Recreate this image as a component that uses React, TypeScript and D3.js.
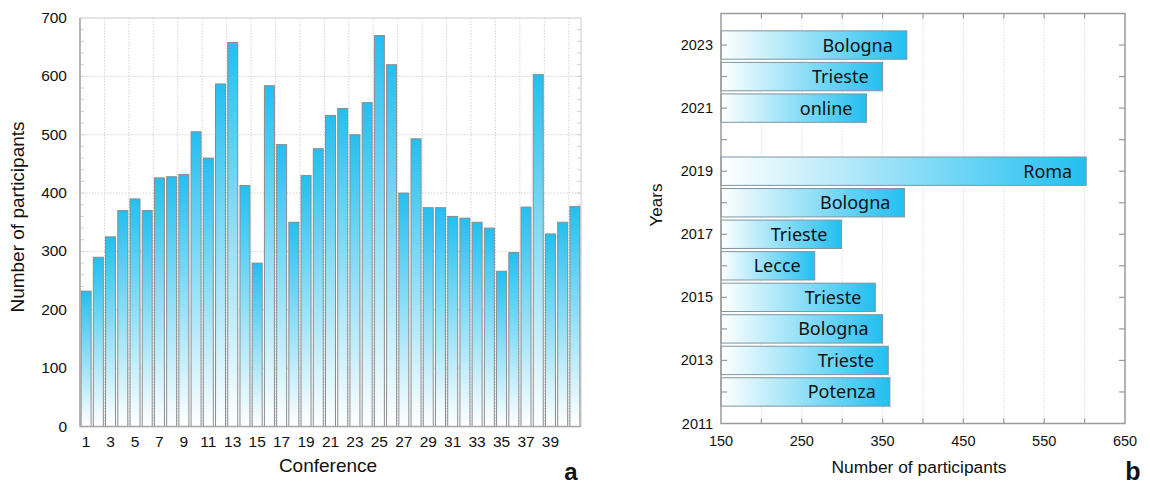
import { range, scaleLinear, select } from "d3"
import { useEffect, useRef } from "react"

// panel a: participants per conference (1..41)
const conferences = range(1, 42)
const participants = [
    232, 290, 325, 370, 390, 370, 426, 428, 432, 505,
    460, 587, 658, 413, 280, 584, 483, 350, 430, 476,
    533, 545, 500, 555, 670, 620, 400, 493, 375, 375,
    360, 357, 350, 340, 266, 298, 376, 603, 330, 350,
    377,
]

// panel b: participants per year with venue
const years = [2023, 2022, 2021, 2019, 2018, 2017, 2016, 2015, 2014, 2013, 2012]
const venues = ["Bologna", "Trieste", "online", "Roma", "Bologna", "Trieste", "Lecce", "Trieste", "Bologna", "Trieste", "Potenza"]
const yearCounts = [380, 350, 330, 602, 377, 299, 266, 341, 350, 357, 359]

const yTicksA = range(0, 701, 100)
const xTicksA = range(1, 40, 2)
const xTicksB = range(150, 651, 100)
const yTicksB = range(2011, 2024, 2)

const sans = "Liberation Sans, Arial, sans-serif"

const App = () => {
    const ref = useRef(null)

    useEffect(() => {
        const svg = select(ref.current)
        svg.selectAll("*").remove()

        const defs = svg.append("defs")
        const gv = defs.append("linearGradient").attr("id", "gv")
            .attr("x1", 0).attr("y1", 0).attr("x2", 0).attr("y2", 1)
        gv.append("stop").attr("offset", 0).attr("stop-color", "#23bff0")
        gv.append("stop").attr("offset", 1).attr("stop-color", "#ffffff")
        const gh = defs.append("linearGradient").attr("id", "gh")
            .attr("x1", 0).attr("y1", 0).attr("x2", 1).attr("y2", 0)
        gh.append("stop").attr("offset", 0).attr("stop-color", "#ffffff")
        gh.append("stop").attr("offset", 1).attr("stop-color", "#22bff0")

        // ---------- panel a ----------
        const x = scaleLinear().domain([0.5, 41.5]).range([80, 581])
        const y = scaleLinear().domain([0, 700]).range([426.5, 18])
        const a = svg.append("g")

        a.selectAll(".hgrid").data(range(100, 700, 100)).join("line")
            .attr("x1", x(0.5)).attr("x2", x(41.5))
            .attr("y1", d => y(d)).attr("y2", d => y(d))
            .attr("stroke", "#d4d4d4").attr("stroke-dasharray", "1.5,1.5")
        a.selectAll(".vgrid").data(range(2.5, 41, 2)).join("line")
            .attr("x1", d => x(d)).attr("x2", d => x(d))
            .attr("y1", y(700)).attr("y2", y(0))
            .attr("stroke", "#d4d4d4").attr("stroke-dasharray", "1.5,1.5")

        a.append("rect")
            .attr("x", x(0.5)).attr("y", y(700))
            .attr("width", x(41.5) - x(0.5)).attr("height", y(0) - y(700))
            .attr("fill", "none").attr("stroke", "#dcdcdc").attr("stroke-width", 1.5)

        // minor ticks, every 20
        const minor = range(20, 700, 20)
        a.selectAll(".tl").data(minor).join("line")
            .attr("x1", x(0.5)).attr("x2", x(0.5) + 4)
            .attr("y1", d => y(d)).attr("y2", d => y(d)).attr("stroke", "#cfcfcf")
        a.selectAll(".tr").data(minor).join("line")
            .attr("x1", x(41.5)).attr("x2", x(41.5) - 4)
            .attr("y1", d => y(d)).attr("y2", d => y(d)).attr("stroke", "#cfcfcf")

        const bw = 10
        a.selectAll(".bar").data(participants).join("rect")
            .attr("x", (_, i) => x(conferences[i]) - bw / 2)
            .attr("y", d => y(d))
            .attr("width", bw)
            .attr("height", d => y(0) - y(d))
            .attr("fill", "url(#gv)")
            .attr("stroke", "#8c8c8c").attr("stroke-width", 1)

        a.append("line").attr("x1", x(0.5)).attr("x2", x(0.5))
            .attr("y1", y(700)).attr("y2", y(0)).attr("stroke", "#a8a8a8").attr("stroke-width", 1.5)
        a.append("line").attr("x1", x(0.5)).attr("x2", x(41.5))
            .attr("y1", y(0)).attr("y2", y(0)).attr("stroke", "#a8a8a8").attr("stroke-width", 1.5)

        a.selectAll(".ylab").data(yTicksA).join("text")
            .attr("x", 67).attr("y", d => y(d) + 5)
            .attr("text-anchor", "end")
            .attr("font-family", sans).attr("font-size", 15.5).attr("fill", "#111")
            .text(d => d)
        a.selectAll(".xlab").data(xTicksA).join("text")
            .attr("x", d => x(d)).attr("y", 447)
            .attr("text-anchor", "middle")
            .attr("font-family", sans).attr("font-size", 15.5).attr("fill", "#111")
            .text(d => d)
        a.append("text")
            .attr("transform", "translate(23.5,217) rotate(-90)")
            .attr("text-anchor", "middle")
            .attr("font-family", sans).attr("font-size", 19).attr("fill", "#111")
            .text("Number of participants")
        a.append("text")
            .attr("x", 328).attr("y", 472)
            .attr("text-anchor", "middle")
            .attr("font-family", sans).attr("font-size", 19).attr("fill", "#111")
            .text("Conference")
        a.append("text")
            .attr("x", 571).attr("y", 480)
            .attr("text-anchor", "middle")
            .attr("font-family", sans).attr("font-weight", "bold").attr("font-size", 24).attr("fill", "#111")
            .text("a")

        // ---------- panel b ----------
        const xb = scaleLinear().domain([150, 650]).range([721, 1125])
        const yb = scaleLinear().domain([2011, 2024]).range([423.5, 13.5])
        const b = svg.append("g")

        b.selectAll(".vgrid").data(range(200, 650, 50)).join("line")
            .attr("x1", d => xb(d)).attr("x2", d => xb(d))
            .attr("y1", yb(2024)).attr("y2", yb(2011))
            .attr("stroke", "#dedede").attr("stroke-dasharray", "1.5,1.5")

        const bh = 0.9 * (yb(2011) - yb(2012))
        b.selectAll(".bar").data(yearCounts).join("rect")
            .attr("x", xb(150))
            .attr("y", (_, i) => yb(years[i]) - bh / 2)
            .attr("width", d => xb(d) - xb(150))
            .attr("height", bh)
            .attr("fill", "url(#gh)")
            .attr("stroke", "#7f959f").attr("stroke-width", 1)
        b.selectAll(".venue").data(yearCounts).join("text")
            .attr("x", d => xb(d) - 14)
            .attr("y", (_, i) => yb(years[i]) + 6.5)
            .attr("text-anchor", "end")
            .attr("font-family", "Noto Sans, sans-serif").attr("font-size", 18).attr("fill", "#111")
            .text((_, i) => venues[i])

        b.append("rect")
            .attr("x", xb(150)).attr("y", yb(2024))
            .attr("width", xb(650) - xb(150)).attr("height", yb(2011) - yb(2024))
            .attr("fill", "none").attr("stroke", "#9a9a9a").attr("stroke-width", 1.5)

        const yearTicks = range(2012, 2024)
        b.selectAll(".tl").data(yearTicks).join("line")
            .attr("x1", xb(150)).attr("x2", xb(150) + 6)
            .attr("y1", d => yb(d)).attr("y2", d => yb(d)).attr("stroke", "#9a9a9a").attr("stroke-width", 1.2)
        b.selectAll(".tr").data(yearTicks).join("line")
            .attr("x1", xb(650)).attr("x2", xb(650) - 6)
            .attr("y1", d => yb(d)).attr("y2", d => yb(d)).attr("stroke", "#9a9a9a").attr("stroke-width", 1.2)
        const xMinor = range(200, 650, 50)
        b.selectAll(".tt").data(xMinor).join("line")
            .attr("x1", d => xb(d)).attr("x2", d => xb(d))
            .attr("y1", yb(2024)).attr("y2", yb(2024) + 5).attr("stroke", "#9a9a9a").attr("stroke-width", 1.2)
        b.selectAll(".tb").data(xMinor).join("line")
            .attr("x1", d => xb(d)).attr("x2", d => xb(d))
            .attr("y1", yb(2011)).attr("y2", yb(2011) - 5).attr("stroke", "#9a9a9a").attr("stroke-width", 1.2)

        b.selectAll(".ylab").data(yTicksB).join("text")
            .attr("x", 713).attr("y", d => yb(d) + 5)
            .attr("text-anchor", "end")
            .attr("font-family", sans).attr("font-size", 14.5).attr("fill", "#111")
            .text(d => d)
        b.selectAll(".xlab").data(xTicksB).join("text")
            .attr("x", d => xb(d)).attr("y", 446)
            .attr("text-anchor", "middle")
            .attr("font-family", sans).attr("font-size", 14.5).attr("fill", "#111")
            .text(d => d)
        b.append("text")
            .attr("transform", "translate(662,205) rotate(-90)")
            .attr("text-anchor", "middle")
            .attr("font-family", sans).attr("font-size", 17).attr("fill", "#111")
            .text("Years")
        b.append("text")
            .attr("x", 919).attr("y", 473)
            .attr("text-anchor", "middle")
            .attr("font-family", sans).attr("font-size", 17.4).attr("fill", "#111")
            .text("Number of participants")
        b.append("text")
            .attr("x", 1133).attr("y", 480)
            .attr("text-anchor", "middle")
            .attr("font-family", sans).attr("font-weight", "bold").attr("font-size", 25).attr("fill", "#111")
            .text("b")
    }, [])

    return (
        <svg ref={ref} width={1150} height={485}
            style={{ position: "absolute", left: 0, top: 0, background: "#fff" }} />
    )
}

export default App
